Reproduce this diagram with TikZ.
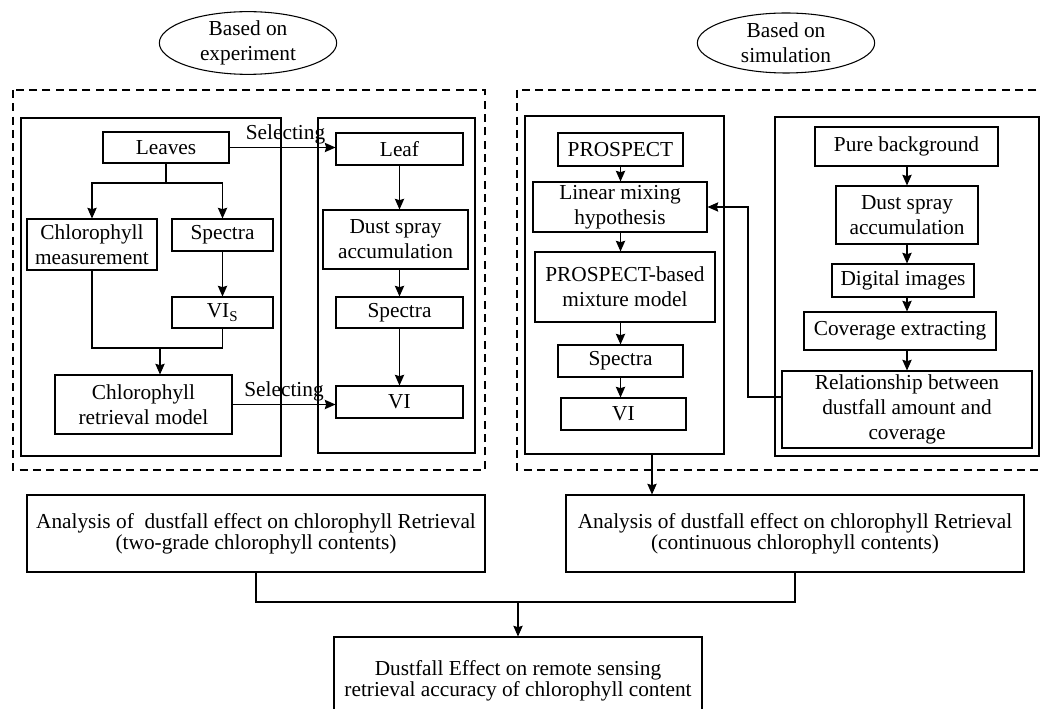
\documentclass[tikz,border=0pt]{standalone}
\usepackage{fontspec}
\setmainfont{Liberation Serif}
\usetikzlibrary{arrows.meta,shapes.geometric}

\begin{document}
\begin{tikzpicture}[x=0.75pt,y=-0.75pt,>={Stealth[length=8pt,width=7pt,inset=1pt]},line width=0.8pt,
	  font=\fontsize{16}{18.75}\selectfont,
	  box/.style={draw,align=center,inner sep=1pt},
	  frame/.style={draw,inner sep=0pt},
	  oval/.style={draw,ellipse,align=center,inner sep=0pt,minimum width=133pt,minimum height=45pt},
	  tight/.style={font=\fontsize{16}{14}\selectfont}]
	  \useasboundingbox (0,0) rectangle (1040,709);
	  \draw[dashed,dash pattern=on 6pt off 4pt] (13,90) rectangle (485,470);
	  \draw[dashed,dash pattern=on 6pt off 4pt] (517,90) rectangle (1050,470);
	  \node[oval] (exp) at (248,43) {Based on\\experiment};
	  \node[oval] (sim) at (786,43) {Based on\\simulation};
	  \node[frame,minimum width=195pt,minimum height=253.5pt] (fl) at (151,287) {};
	  \node[frame,minimum width=117.75pt,minimum height=251.25pt] (fr) at (396.5,285.5) {};
	  \node[frame,minimum width=149.25pt,minimum height=253.5pt] (sl) at (624.5,285) {};
	  \node[frame,minimum width=198pt,minimum height=254.25pt] (sr) at (907,286.5) {};
	  \node[box,minimum width=94.5pt,minimum height=23.25pt] (leaves) at (166,147.5) {Leaves};
	  \node[box,minimum width=97.5pt,minimum height=38.25pt] (meas) at (92,244.5) {Chlorophyll\\measurement};
	  \node[box,minimum width=75.75pt,minimum height=24pt] (spec1) at (222.5,235) {Spectra};
	  \node[box,minimum width=75.75pt,minimum height=23.25pt] (vis) at (222.5,312.5) {VI\textsubscript{S}};
	  \node[box,minimum width=132.75pt,minimum height=44.25pt] (retr) at (143.5,404.5) {Chlorophyll\\retrieval model};
	  \node[box,minimum width=95.25pt,minimum height=24pt] (leaf) at (399.5,149) {Leaf};
	  \node[box,minimum width=108.75pt,minimum height=44.25pt] (dust1) at (395.5,239.5) {Dust spray\\accumulation};
	  \node[box,minimum width=95.25pt,minimum height=23.25pt] (spec2) at (399.5,312.5) {Spectra};
	  \node[box,minimum width=95.25pt,minimum height=24pt] (vi1) at (399.5,402) {VI};
	  \node (sel1) at (285.5,134) {Selecting};
	  \node (sel2) at (284,391) {Selecting};
	  \node[box,minimum width=93.75pt,minimum height=24.75pt] (pro) at (620.5,149.5) {PROSPECT};
	  \node[box,minimum width=130.5pt,minimum height=37.5pt] (mix) at (620,207) {Linear mixing\\hypothesis};
	  \node[box,minimum width=135pt,minimum height=52.5pt] (pbm) at (625,287) {PROSPECT-based\\mixture model};
	  \node[box,minimum width=93.75pt,minimum height=24pt] (spec3) at (620.5,361) {Spectra};
	  \node[box,minimum width=93.75pt,minimum height=24pt] (vi2) at (623.5,414) {VI};
	  \node[box,minimum width=137.25pt,minimum height=29.25pt] (pure) at (906.5,146.5) {Pure background};
	  \node[box,minimum width=106.5pt,minimum height=43.5pt] (dust2) at (907,215) {Dust spray\\accumulation};
	  \node[box,minimum width=106.5pt,minimum height=24.75pt] (dig) at (903,280.5) {Digital images};
	  \node[box,minimum width=144pt,minimum height=28.5pt] (cov) at (900,331) {Coverage extracting};
	  \node[box,minimum width=187.5pt,minimum height=57.75pt] (rel) at (907,409.5) {Relationship between\\dustfall amount and\\coverage};
	  \node[box,tight,minimum width=343.5pt,minimum height=57.75pt] (anL) at (256,533.5) {Analysis of\ \ dustfall effect on chlorophyll Retrieval\\(two-grade chlorophyll contents)};
	  \node[box,tight,minimum width=343.5pt,minimum height=57.75pt] (anR) at (795,533.5) {Analysis of dustfall effect on chlorophyll Retrieval\\(continuous chlorophyll contents)};
	  \node[box,tight,minimum width=276pt,minimum height=66pt] (fin) at (518,681) {Dustfall Effect on remote sensing\\retrieval accuracy of chlorophyll content};
	  \coordinate (j1) at (166,183);
	  \coordinate (j2) at (160,348);
	  \coordinate (j3) at (518,602);
	  \coordinate (fb) at (748,397);
	  \coordinate (c1) at (652,462);
	  \draw (leaves.south) -- (j1);
	  \draw[->] (j1) -| (meas.north);
	  \draw[->] (j1) -| (spec1.north);
	  \draw[->] (spec1.south) -- (vis.north);
	  \draw (meas.south) |- (j2) -| (vis.south);
	  \draw[->] (j2) -- (j2 |- retr.north);
	  \draw[->] (leaves.east) -- (leaves.east -| leaf.west);
	  \draw[->] (retr.east) -- (retr.east -| vi1.west);
	  \draw[->] (leaf.south) -- (leaf.south |- dust1.north);
	  \draw[->] (leaf.south |- dust1.south) -- (leaf.south |- spec2.north);
	  \draw[->] (spec2.south) -- (vi1.north);
	  \draw[->] (pro.south) -- (pro.south |- mix.north);
	  \draw[->] (pro.south |- mix.south) -- (pro.south |- pbm.north);
	  \draw[->] (pro.south |- pbm.south) -- (spec3.north);
	  \draw[->] (spec3.south) -- (spec3.south |- vi2.north);
	  \draw[->] (dust2.south |- pure.south) -- (dust2.north);
	  \draw[->] (dust2.south) -- (dust2.south |- dig.north);
	  \draw[->] (dust2.south |- dig.south) -- (dust2.south |- cov.north);
	  \draw[->] (dust2.south |- cov.south) -- (rel.north);
	  \draw[->] (fb -| rel.west) -- (fb) |- (mix.east);
	  \draw[->] (c1 |- sl.south) -- (c1 |- anR.north);
	  \draw (anL.south) |- (j3) -| (anR.south);
	  \draw[->] (j3) -- (fin.north);
	\end{tikzpicture}
\end{document}
